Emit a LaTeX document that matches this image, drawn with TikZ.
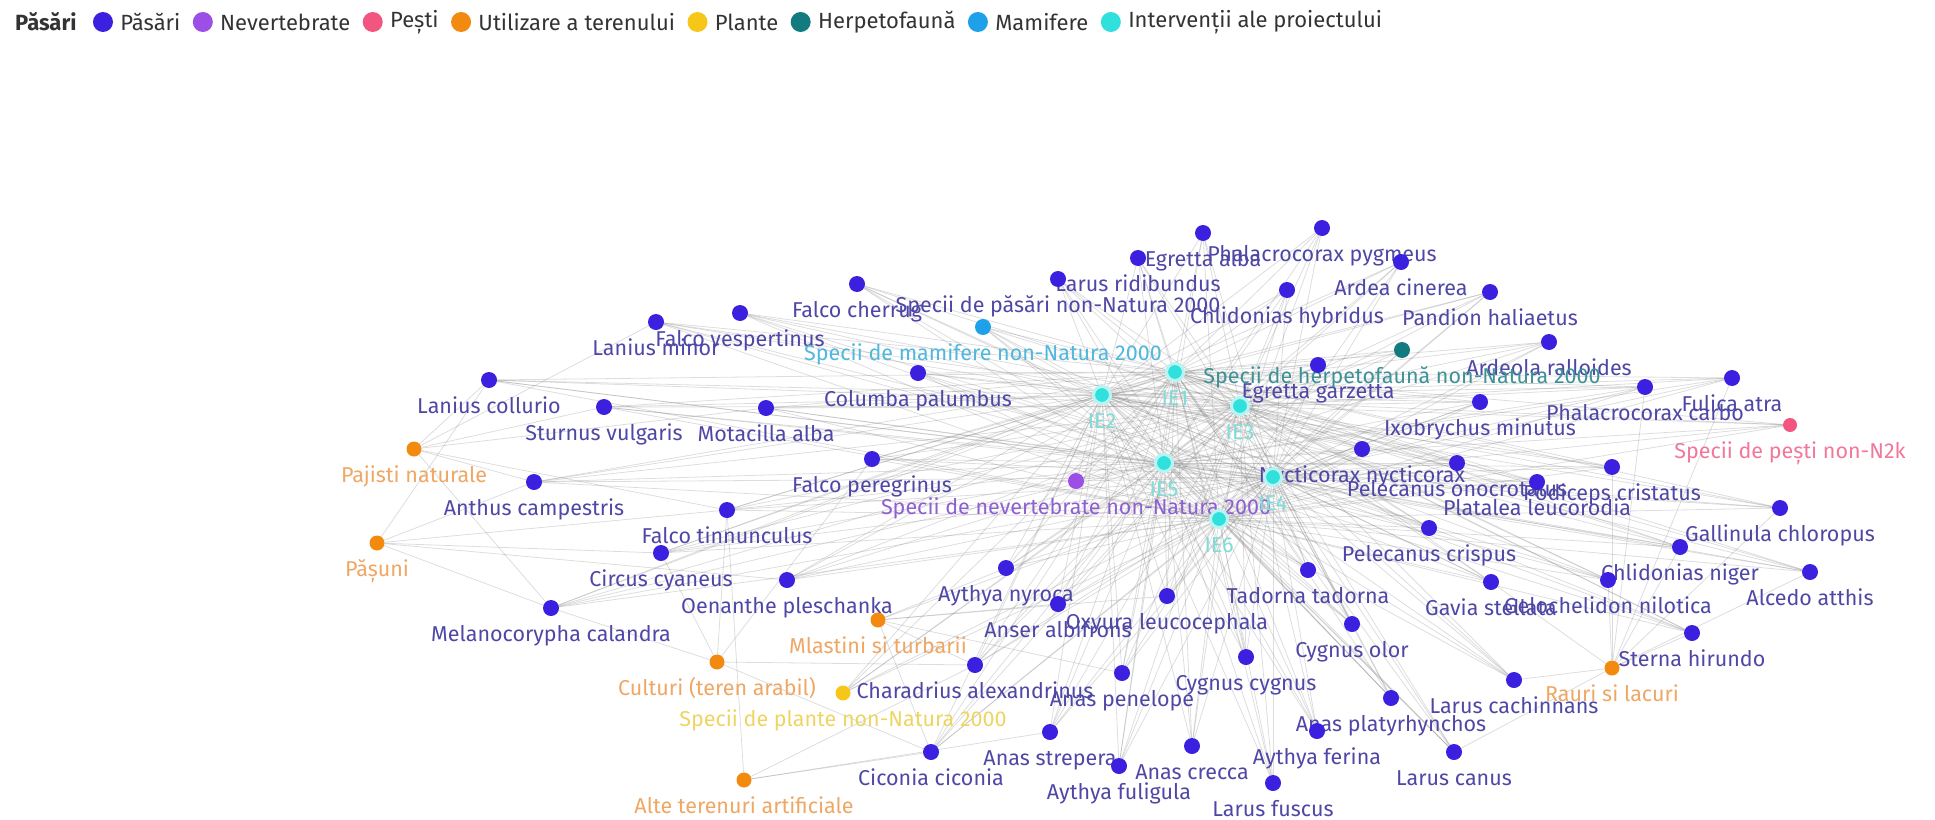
\documentclass[tikz,border=0pt]{standalone}
\usepackage{fontspec}
\setmainfont{Fira Sans}
\usetikzlibrary{positioning}
\pgfdeclarelayer{edges}
\pgfdeclarelayer{labels}
\pgfsetlayers{edges,labels,main}

\definecolor{colBird}{HTML}{3B20DF}
\definecolor{colInv}{HTML}{9C4FE6}
\definecolor{colFish}{HTML}{F2557F}
\definecolor{colLand}{HTML}{F28A0F}
\definecolor{colPlant}{HTML}{F6C719}
\definecolor{colHerp}{HTML}{127B80}
\definecolor{colMam}{HTML}{1EA1E9}
\definecolor{colIE}{HTML}{2FE0DD}
\definecolor{labBird}{HTML}{4F47A5}
\definecolor{labIE}{HTML}{7FDCD8}
\definecolor{labLand}{HTML}{EEA764}
\definecolor{labPlant}{HTML}{EED563}
\definecolor{labFish}{HTML}{F2779A}
\definecolor{labMam}{HTML}{4FB8DC}
\definecolor{labHerp}{HTML}{3E9296}
\definecolor{labInv}{HTML}{8E5FD0}
\definecolor{legText}{HTML}{333333}

\begin{document}
\begin{tikzpicture}[
  x=1pt, y=-1pt,
  dot/.style={circle, inner sep=0pt, minimum size=16pt},
  bird/.style={dot, fill=colBird},
  land/.style={dot, fill=colLand, minimum size=15pt},
  inter/.style={dot, fill=colIE, draw=colIE!35, line width=3pt, minimum size=17pt},
  lab/.style={inner sep=0pt, anchor=base, font=\fontsize{21.5}{21.5}\selectfont},
  birdlab/.style={lab, text=labBird},
  landlab/.style={lab, text=labLand},
  ielab/.style={lab, text=labIE},
  link/.style={draw=gray, line width=0.8pt, opacity=0.27},
  legdot/.style={circle, inner sep=0pt, minimum size=20pt},
  legtxt/.style={inner sep=0pt, text=legText, font=\fontsize{22}{22}\selectfont},
]
\useasboundingbox (0,0) rectangle (1935,819);

% legend
\node[legtxt, anchor=west, font=\fontsize{22}{22}\selectfont\bfseries] (lg-title) at (15,22) {Păsări};
\node[legdot, fill=colBird, right=16pt of lg-title] (lg-bird) {};
\node[legtxt, right=7pt of lg-bird] (lg-bird-t) {Păsări};
\node[legdot, fill=colInv, right=12pt of lg-bird-t] (lg-inv) {};
\node[legtxt, right=7pt of lg-inv] (lg-inv-t) {Nevertebrate};
\node[legdot, fill=colFish, right=12pt of lg-inv-t] (lg-fish) {};
\node[legtxt, right=7pt of lg-fish] (lg-fish-t) {Pești};
\node[legdot, fill=colLand, right=12pt of lg-fish-t] (lg-land) {};
\node[legtxt, right=7pt of lg-land] (lg-land-t) {Utilizare a terenului};
\node[legdot, fill=colPlant, right=12pt of lg-land-t] (lg-plant) {};
\node[legtxt, right=7pt of lg-plant] (lg-plant-t) {Plante};
\node[legdot, fill=colHerp, right=12pt of lg-plant-t] (lg-herp) {};
\node[legtxt, right=7pt of lg-herp] (lg-herp-t) {Herpetofaună};
\node[legdot, fill=colMam, right=12pt of lg-herp-t] (lg-mam) {};
\node[legtxt, right=7pt of lg-mam] (lg-mam-t) {Mamifere};
\node[legdot, fill=colIE, right=12pt of lg-mam-t] (lg-ie) {};
\node[legtxt, right=7pt of lg-ie] (lg-ie-t) {Intervenții ale proiectului};

% bird species
\foreach \n/\x/\y/\t in {
  pygm/1322/228/Phalacrocorax pygmeus, ealba/1203/233/Egretta alba,
  lridi/1138/258/Larus ridibundus, pasari/1058/279/Specii de păsări non-Natura 2000,
  fcher/857/284/Falco cherrug, fvesp/740/313/Falco vespertinus,
  lmin/656/322/Lanius minor, lcoll/489/380/Lanius collurio,
  sturn/604/407/Sturnus vulgaris, motac/766/408/Motacilla alba,
  colum/918/373/Columba palumbus, chyb/1287/290/Chlidonias hybridus,
  ardea/1401/262/Ardea cinerea, pand/1490/292/Pandion haliaetus,
  ardeo/1549/342/Ardeola ralloides, egarz/1318/365/Egretta garzetta,
  pcarb/1645/387/Phalacrocorax carbo, fulic/1732/378/Fulica atra,
  ixob/1480/402/Ixobrychus minutus, nyct/1362/449/Nycticorax nycticorax,
  ponoc/1457/463/Pelecanus onocrotalus, podic/1612/467/Podiceps cristatus,
  plat/1537/482/Platalea leucorodia, pcris/1429/528/Pelecanus crispus,
  gall/1780/508/Gallinula chloropus, chnig/1680/547/Chlidonias niger,
  alced/1810/572/Alcedo atthis, gavia/1491/582/Gavia stellata,
  geloc/1608/580/Gelochelidon nilotica, stern/1692/633/Sterna hirundo,
  lcach/1514/680/Larus cachinnans, lcan/1454/752/Larus canus,
  aplat/1391/698/Anas platyrhynchos, afer/1317/731/Aythya ferina,
  lfusc/1273/783/Larus fuscus, acrec/1192/746/Anas crecca,
  aful/1119/766/Aythya fuligula, astre/1050/732/Anas strepera,
  cicon/931/752/Ciconia ciconia, ccyg/1246/657/Cygnus cygnus,
  color/1352/624/Cygnus olor, apen/1122/673/Anas penelope,
  chara/975/665/Charadrius alexandrinus, anser/1058/604/Anser albifrons,
  oxyu/1167/596/Oxyura leucocephala, anyr/1006/568/Aythya nyroca,
  tador/1308/570/Tadorna tadorna, fpere/872/459/Falco peregrinus,
  anthu/534/482/Anthus campestris, ftinn/727/510/Falco tinnunculus,
  circ/661/553/Circus cyaneus, oenan/787/580/Oenanthe pleschanka,
  melan/551/608/Melanocorypha calandra}{
  \node[bird] (\n) at (\x,\y) {};
  \begin{pgfonlayer}{labels}
    \node[birdlab] (\n-l) at ([yshift=-33pt]\n.center) {\t};
  \end{pgfonlayer}
}

% land use
\foreach \n/\x/\y/\t in {
  pajis/414/449/Pajisti naturale, pasun/377/543/Pășuni,
  mlast/878/620/Mlastini si turbarii, cultu/717/662/Culturi (teren arabil),
  alte/744/780/Alte terenuri artificiale, rauri/1612/668/Rauri si lacuri}{
  \node[land] (\n) at (\x,\y) {};
  \begin{pgfonlayer}{labels}
    \node[landlab] (\n-l) at ([yshift=-33pt]\n.center) {\t};
  \end{pgfonlayer}
}

% other groups
\node[dot, fill=colMam] (mamif) at (983,327) {};
\node[dot, fill=colHerp] (herp) at (1402,350) {};
\node[dot, fill=colInv] (nevert) at (1076,481) {};
\node[dot, fill=colFish, minimum size=14pt] (pesti) at (1790,425) {};
\node[dot, fill=colPlant, minimum size=15pt] (plante) at (843,693) {};
\begin{pgfonlayer}{labels}
\node[lab, text=labMam] (mamif-l) at ([yshift=-33pt]mamif.center) {Specii de mamifere non-Natura 2000};
\node[lab, text=labHerp] (herp-l) at ([yshift=-33pt]herp.center) {Specii de herpetofaună non-Natura 2000};
\node[lab, text=labInv] (nevert-l) at ([yshift=-33pt]nevert.center) {Specii de nevertebrate non-Natura 2000};
\node[lab, text=labFish] (pesti-l) at ([yshift=-33pt]pesti.center) {Specii de pești non-N2k};
\node[lab, text=labPlant] (plante-l) at ([yshift=-33pt]plante.center) {Specii de plante non-Natura 2000};
\end{pgfonlayer}

% project interventions
\foreach \i/\x/\y in {1/1175/372, 2/1102/395, 3/1240/406, 4/1273/477, 5/1164/463, 6/1219/519}{
  \node[inter] (ie\i) at (\x,\y) {};
  \begin{pgfonlayer}{labels}
    \node[ielab] (ie\i-l) at ([yshift=-33pt]ie\i.center) {IE\i};
  \end{pgfonlayer}
}

% links
\begin{pgfonlayer}{edges}
\foreach \s in {pygm,ealba,lridi,pasari,fcher,fvesp,lmin,lcoll,sturn,motac,colum,chyb,
  ardea,pand,ardeo,egarz,pcarb,fulic,ixob,nyct,ponoc,podic,plat,pcris,gall,chnig,alced,
  gavia,geloc,stern,lcach,lcan,aplat,afer,lfusc,acrec,aful,astre,cicon,ccyg,color,apen,
  chara,anser,oxyu,anyr,tador,fpere,anthu,ftinn,circ,oenan,melan,
  mamif,herp,nevert,pesti,plante}{
  \foreach \i in {1,...,6}{
    \draw[link] (ie\i) -- (\s);
  }
}
\foreach \a/\b in {pajis/lcoll, pajis/anthu, pajis/sturn, pajis/motac, pajis/ftinn, pajis/melan, pajis/lmin,
  pasun/anthu, pasun/melan, pasun/circ, pasun/oenan, pasun/ftinn, pasun/lcoll,
  cultu/melan, cultu/circ, cultu/ftinn, cultu/cicon, cultu/chara, cultu/fpere,
  mlast/anyr, mlast/anser, mlast/ixob, mlast/oxyu, mlast/chara, mlast/cicon, mlast/apen,
  alte/cicon, alte/ftinn, alte/chara, alte/astre,
  rauri/stern, rauri/lcach, rauri/chnig, rauri/alced, rauri/gall, rauri/podic, rauri/geloc,
  rauri/lcan, rauri/gavia, rauri/pcarb, rauri/fulic}{
  \draw[link] (\a) -- (\b);
}
\end{pgfonlayer}
\end{tikzpicture}
\end{document}
